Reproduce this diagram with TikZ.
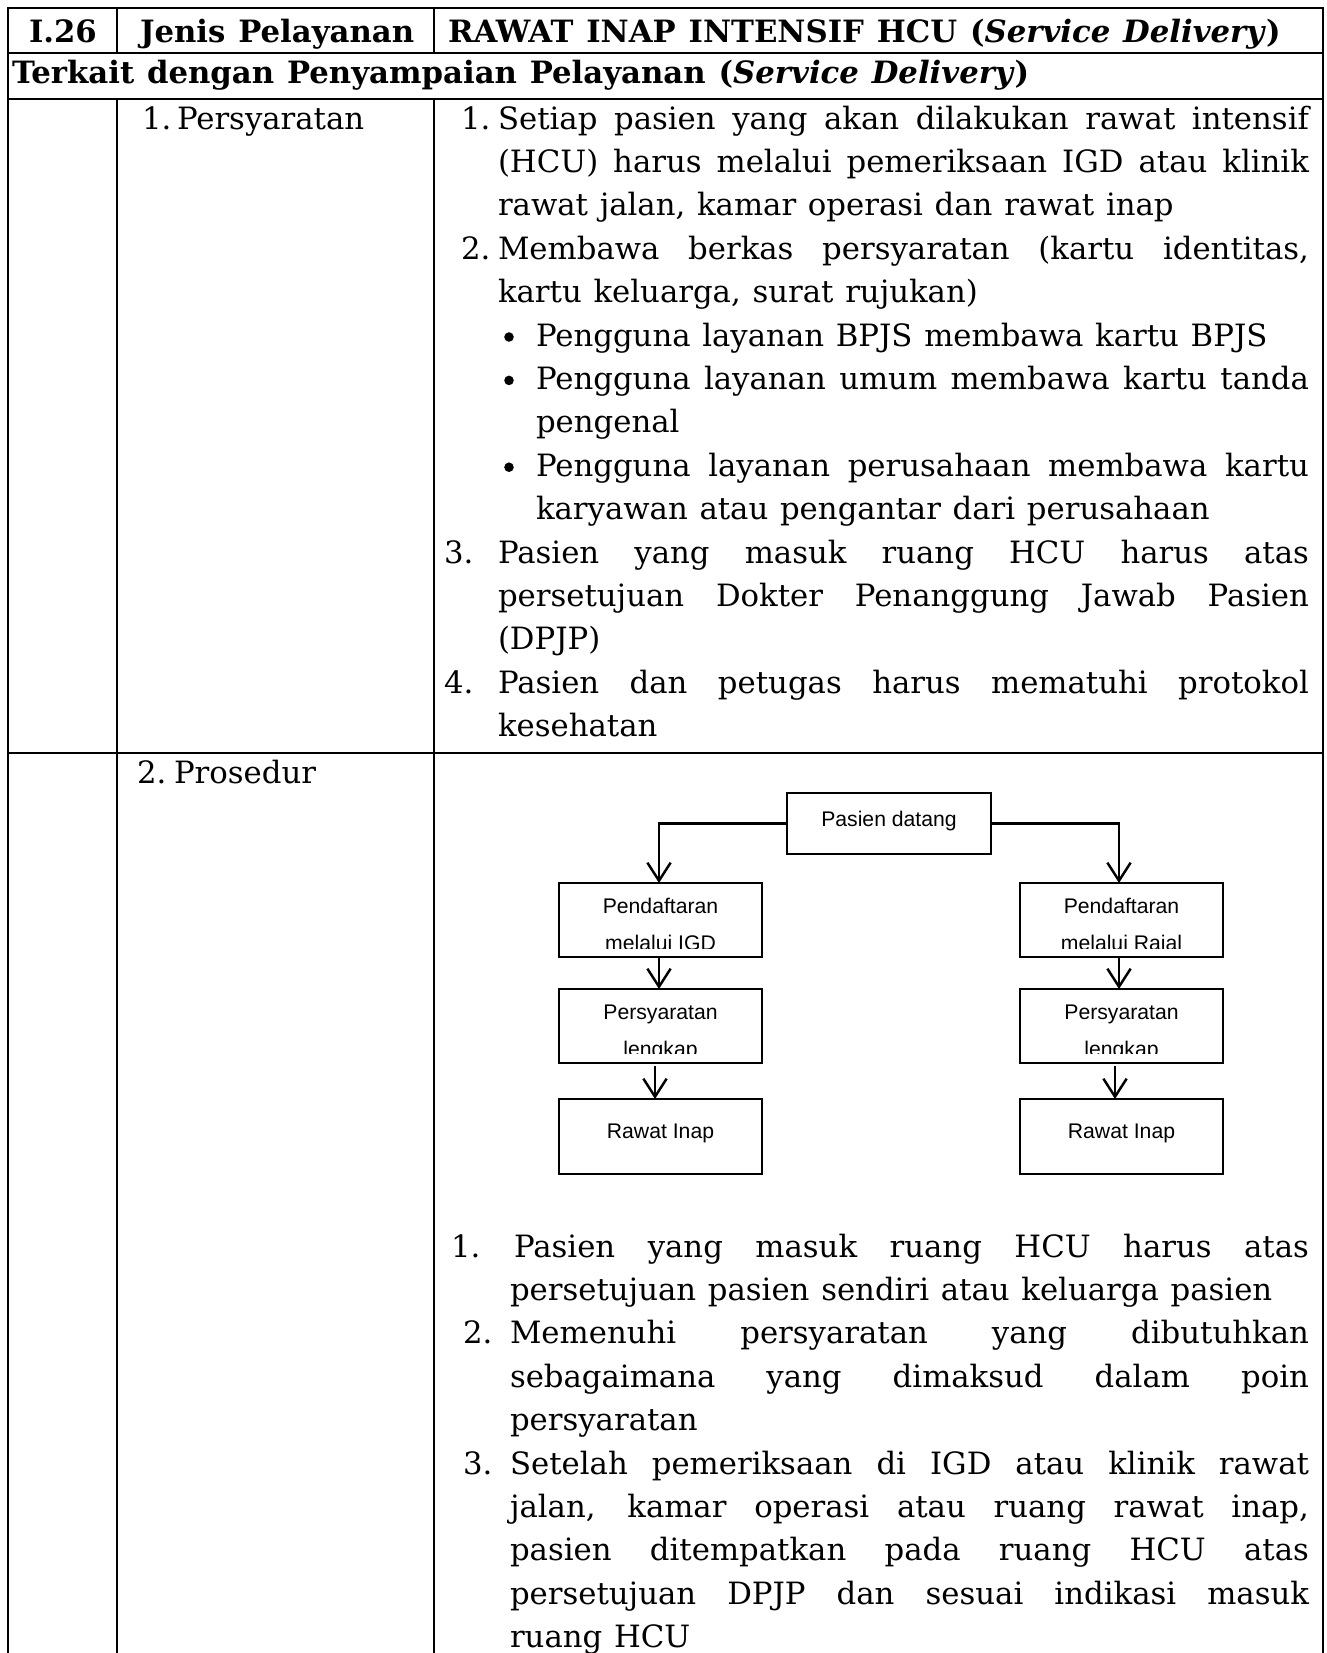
\documentclass[tikz,border=0pt]{standalone}
\usepackage{fontspec}
\setmainfont{DejaVu Serif}[WordSpace={1.2}]
\newfontfamily\flowfont{Liberation Sans}
\usetikzlibrary{arrows.meta}

% one drawing unit = one pixel of the layout grid
\newdimen\px \px=0.387pt
\newcommand\bk{\fontsize{11.9}{14}\selectfont}
\newcommand\flw{\flowfont\fontsize{8.2}{9}\selectfont}
% a justified line of given width (in grid units)
\newcommand\jl[2]{\makebox[#1\px][s]{#2}}

\begin{document}
\begin{tikzpicture}[x=0.387pt, y=-0.387pt,
  tline/.style={line width=2.3\px, line cap=rect},
  txt/.style={anchor=base west, inner sep=0pt, outer sep=0pt, font=\bk},
  hd/.style={txt, font=\bk\bfseries},
  fbox/.style={draw, line width=0.5pt, inner sep=0pt, outer sep=0pt,
               minimum width=203\px, minimum height=74\px},
  fl/.style={anchor=base, inner sep=0pt, outer sep=0pt, font=\flw},
  conn/.style={line width=0.95pt, -{Straight Barb[length=7pt,width=9pt]}},
  bul/.style={fill=black}
]
\useasboundingbox (0,0) rectangle (1327,1653);
\clip (0,0) rectangle (1327,1653);

% ---------- table rules ----------
\draw[tline] (8,8) -- (1323,8);
\draw[tline] (8,53) -- (1323,53);
\draw[tline] (8,99) -- (1323,99);
\draw[tline] (8,753) -- (1323,753);
\draw[tline] (8,8) -- (8,1660);
\draw[tline] (1323,8) -- (1323,1660);
\draw[tline] (117,8) -- (117,53);
\draw[tline] (434,8) -- (434,53);
\draw[tline] (117,99) -- (117,1660);
\draw[tline] (434,99) -- (434,1660);

% ---------- header rows ----------
\node[hd] (no) at (29,42) {I.26};
\node[hd] (jenis) at (140,42) {Jenis Pelayanan};
\node[hd] (judul) at (448,42) {RAWAT INAP INTENSIF HCU (\textit{Service Delivery})};
\node[hd] (terkait) at (12,83) {Terkait dengan Penyampaian Pelayanan (\textit{Service Delivery})};

% ---------- persyaratan ----------
\node[txt] (lpn) at (142,129) {1.};
\node[txt] (lp) at (177,129) {Persyaratan};

\node[txt] (n1) at (461,129.0) {1.};
\node[txt] (a0) at (498,129.0) {\jl{811}{Setiap pasien yang akan dilakukan rawat intensif}};
\node[txt] (a1) at (498,172.4) {\jl{811}{(HCU) harus melalui pemeriksaan IGD atau klinik}};
\node[txt] (a2) at (498,215.8) {rawat jalan, kamar operasi dan rawat inap};
\node[txt] (n2) at (461,259.2) {2.};
\node[txt] (a3) at (498,259.2) {\jl{811}{Membawa berkas persyaratan (kartu identitas,}};
\node[txt] (a4) at (498,302.6) {kartu keluarga, surat rujukan)};
\fill[bul] (509,337) circle[radius=1.85pt];
\node[txt] (a5) at (536,346.0) {Pengguna layanan BPJS membawa kartu BPJS};
\fill[bul] (509,380.4) circle[radius=1.85pt];
\node[txt] (a6) at (536,389.4) {\jl{773}{Pengguna layanan umum membawa kartu tanda}};
\node[txt] (a7) at (536,432.8) {pengenal};
\fill[bul] (509,467.2) circle[radius=1.85pt];
\node[txt] (a8) at (536,476.2) {\jl{773}{Pengguna layanan perusahaan membawa kartu}};
\node[txt] (a9) at (536,519.6) {karyawan atau pengantar dari perusahaan};
\node[txt] (n3) at (444,563.0) {3.};
\node[txt] (a10) at (498,563.0) {\jl{811}{Pasien yang masuk ruang HCU harus atas}};
\node[txt] (a11) at (498,606.4) {\jl{811}{persetujuan Dokter Penanggung Jawab Pasien}};
\node[txt] (a12) at (498,649.8) {(DPJP)};
\node[txt] (n4) at (444,693.2) {4.};
\node[txt] (a13) at (498,693.2) {\jl{811}{Pasien dan petugas harus mematuhi protokol}};
\node[txt] (a14) at (498,736.6) {kesehatan};

% ---------- prosedur ----------
\node[txt] (lprn) at (137,783) {2.};
\node[txt] (lpr) at (174,783) {Prosedur};

% flow boxes
\node[fbox, minimum width=204\px, minimum height=61\px] (pd) at (889,823.5) {};
\node[fbox] (igd)  at (660.5,920) {};
\node[fbox] (igdp) at (660.5,1026) {};
\node[fbox, minimum height=75\px] (igdr) at (660.5,1136.5) {};
\node[fbox] (rj)  at (1121.5,920) {};
\node[fbox] (rjp) at (1121.5,1026) {};
\node[fbox, minimum height=75\px] (rjr) at (1121.5,1136.5) {};

% box captions
\node[fl] (pdt) at (889,826) {Pasien datang};
\begin{scope}
  \clip (igd.north west) rectangle ([yshift=9\px]igd.south east);
  \node[fl] (igd1) at (660.5,913) {Pendaftaran};
  \node[fl] (igd2) at (660.5,950) {melalui IGD};
\end{scope}
\begin{scope}
  \clip (rj.north west) rectangle ([yshift=9\px]rj.south east);
  \node[fl] (rj1) at (1121.5,913) {Pendaftaran};
  \node[fl] (rj2) at (1121.5,950) {melalui Rajal};
\end{scope}
\begin{scope}
  \clip (igdp.north west) rectangle ([yshift=10\px]igdp.south east);
  \node[fl] (igdp1) at (660.5,1019) {Persyaratan};
  \node[fl] (igdp2) at (660.5,1056) {lengkap};
\end{scope}
\begin{scope}
  \clip (rjp.north west) rectangle ([yshift=10\px]rjp.south east);
  \node[fl] (rjp1) at (1121.5,1019) {Persyaratan};
  \node[fl] (rjp2) at (1121.5,1056) {lengkap};
\end{scope}
\node[fl] (igdr1) at (660.5,1138) {Rawat Inap};
\node[fl] (rjr1) at (1121.5,1138) {Rawat Inap};

% connectors
\draw[conn] (pd.west) -| ([xshift=-1.5\px]igd.north);
\draw[conn] (pd.east) -| ([xshift=-2.5\px]rj.north);
\draw[conn] ([xshift=-1.5\px]igd.south) -- ([xshift=-1.5\px]igdp.north);
\draw[conn] ([xshift=-2.5\px]rj.south) -- ([xshift=-2.5\px]rjp.north);
\draw[conn] ([shift={(-5.5,3)}]igdp.south) -- ([xshift=-5.5\px]igdr.north);
\draw[conn] ([shift={(-6.5,3)}]rjp.south) -- ([xshift=-6.5\px]rjr.north);

% numbered list under the flow
\node[txt] (m1) at (451,1257.0) {1.};
\node[txt] (b0) at (514,1257.0) {\jl{795}{Pasien yang masuk ruang HCU harus atas}};
\node[txt] (b1) at (510,1300.4) {persetujuan pasien sendiri atau keluarga pasien};
\node[txt] (m2) at (463,1343.8) {2.};
\node[txt] (b2) at (510,1343.8) {\jl{799}{Memenuhi persyaratan yang dibutuhkan}};
\node[txt] (b3) at (510,1387.2) {\jl{799}{sebagaimana yang dimaksud dalam poin}};
\node[txt] (b4) at (510,1430.6) {persyaratan};
\node[txt] (m3) at (463,1474.0) {3.};
\node[txt] (b5) at (510,1474.0) {\jl{799}{Setelah pemeriksaan di IGD atau klinik rawat}};
\node[txt] (b6) at (510,1517.4) {\jl{799}{jalan, kamar operasi atau ruang rawat inap,}};
\node[txt] (b7) at (510,1560.8) {\jl{799}{pasien ditempatkan pada ruang HCU atas}};
\node[txt] (b8) at (510,1604.2) {\jl{799}{persetujuan DPJP dan sesuai indikasi masuk}};
\node[txt] (b9) at (510,1647.6) {ruang HCU};
\end{tikzpicture}
\end{document}
